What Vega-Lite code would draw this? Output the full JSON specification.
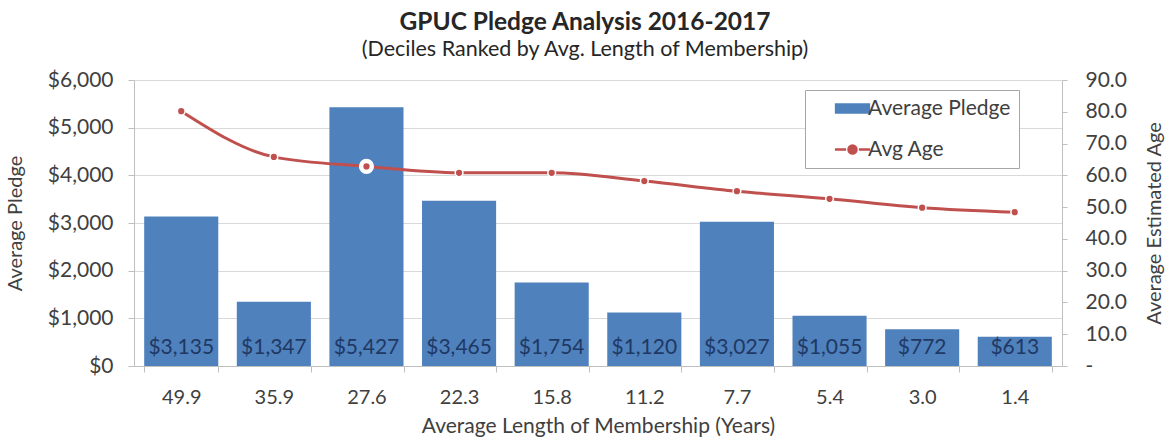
{
  "$schema": "https://vega.github.io/schema/vega-lite/v6.json",
  "width": 928,
  "height": 286,
  "autosize": {"type": "none"},
  "padding": {"left": 134, "top": 80, "right": 105, "bottom": 72},
  "background": "white",
  "title": {
    "text": "GPUC Pledge Analysis 2016-2017",
    "subtitle": "(Deciles Ranked by Avg. Length of Membership)",
    "anchor": "middle",
    "frame": "group",
    "dx": -13,
    "offset": 8,
    "font": "Lato",
    "fontSize": 24.5,
    "fontWeight": "bold",
    "color": "#262626",
    "subtitleFont": "Lato",
    "subtitleFontSize": 21.5,
    "subtitleColor": "#262626",
    "subtitlePadding": 3
  },
  "config": {
    "view": {"stroke": null},
    "font": "Lato",
    "axis": {
      "domainColor": "#BFBFBF",
      "tickColor": "#BFBFBF",
      "labelColor": "#404040",
      "titleColor": "#404040",
      "titleFontWeight": "normal",
      "labelFont": "Lato",
      "titleFont": "Lato"
    }
  },
  "data": {
    "values": [
      {"years": "49.9", "pledge": 3135, "age": 80.2},
      {"years": "35.9", "pledge": 1347, "age": 65.8},
      {"years": "27.6", "pledge": 5427, "age": 62.8},
      {"years": "22.3", "pledge": 3465, "age": 60.8},
      {"years": "15.8", "pledge": 1754, "age": 60.8},
      {"years": "11.2", "pledge": 1120, "age": 58.2},
      {"years": "7.7", "pledge": 3027, "age": 55.0},
      {"years": "5.4", "pledge": 1055, "age": 52.6},
      {"years": "3.0", "pledge": 772, "age": 49.8},
      {"years": "1.4", "pledge": 613, "age": 48.4}
    ]
  },
  "encoding": {
    "x": {
      "field": "years",
      "type": "ordinal",
      "sort": null,
      "title": "Average Length of Membership (Years)",
      "scale": {"paddingInner": 0.2, "paddingOuter": 0.11},
      "axis": {
        "labelAngle": 0,
        "tickBand": "extent",
        "tickSize": 6,
        "labelFontSize": 20,
        "labelPadding": 15,
        "titleFontSize": 21,
        "titlePadding": 8
      }
    }
  },
  "layer": [
    {
      "encoding": {
        "y": {
          "field": "pledge",
          "type": "quantitative",
          "title": "Average Pledge",
          "scale": {"domain": [0, 6000]},
          "axis": {
            "orient": "left",
            "values": [0, 1000, 2000, 3000, 4000, 5000, 6000],
            "format": "$,.0f",
            "grid": true,
            "gridColor": "#D9D9D9",
            "tickSize": 6,
            "labelFontSize": 21,
            "labelPadding": 15,
            "titleFontSize": 20,
            "titlePadding": 22
          }
        }
      },
      "layer": [
        {
          "mark": {"type": "bar", "color": "#4F81BD"},
          "encoding": {
            "color": {
              "datum": "Average Pledge",
              "type": "nominal",
              "scale": {"domain": ["Average Pledge", "Avg Age"], "range": ["#4F81BD", "#C0504D"]},
              "legend": {
                "title": null,
                "orient": "none",
                "legendX": 671,
                "legendY": 10,
                "padding": 8,
                "strokeColor": "#A6A6A6",
                "fillColor": "white",
                "labelFont": "Lato",
                "labelFontSize": 21,
                "labelColor": "#404040",
                "symbolSize": 256,
                "symbolOffset": 29,
                "labelOffset": 5,
                "rowPadding": 19,
                "encode": {
                  "symbols": {
                    "update": {
                      "shape": {"signal": "datum.value == 'Avg Age' ? 'M-2.2,0H-0.8M0.8,0H2.2M-0.5,0A0.5,0.5 0 1,0 0.5,0A0.5,0.5 0 1,0 -0.5,0Z' : 'M-2.05,-0.5H2.05V0.5H-2.05Z'"},
                      "fill": {"signal": "datum.value == 'Avg Age' ? '#C0504D' : '#4F81BD'"},
                      "stroke": {"signal": "datum.value == 'Avg Age' ? '#C0504D' : '#4F81BD'"},
                      "strokeWidth": {"value": 2.5},
                      "opacity": {"value": 1},
                      "fillOpacity": {"value": 1},
                      "strokeDash": {"value": []}
                    }
                  }
                }
              }
            }
          }
        },
        {
          "mark": {"type": "text", "baseline": "bottom", "dy": -8, "fontSize": 21, "color": "#1F3864"},
          "encoding": {
            "y": {"datum": 0, "type": "quantitative", "title": "Average Pledge"},
            "text": {"field": "pledge", "type": "quantitative", "format": "$,.0f"}
          }
        }
      ]
    },
    {
      "encoding": {
        "y": {
          "field": "age",
          "type": "quantitative",
          "title": "Average Estimated Age",
          "scale": {"domain": [0, 90]},
          "axis": {
            "orient": "right",
            "values": [0, 10, 20, 30, 40, 50, 60, 70, 80, 90],
            "labelExpr": "datum.value == 0 ? '-' : format(datum.value, '.1f')",
            "grid": false,
            "tickSize": 5,
            "labelFontSize": 21,
            "labelPadding": 18,
            "labelAlign": "left",
            "titleFontSize": 20,
            "titleAngle": 270,
            "titleBaseline": "top",
            "titlePadding": 18
          }
        }
      },
      "layer": [
        {
          "mark": {"type": "line", "strokeWidth": 3, "interpolate": "monotone"},
          "encoding": {
            "color": {"datum": "Avg Age", "type": "nominal"}
          }
        },
        {
          "transform": [{"filter": "datum.years == '27.6'"}],
          "mark": {"type": "circle", "size": 230, "fill": "white", "opacity": 1},
          "encoding": {}
        },
        {
          "mark": {"type": "circle", "size": 60, "fill": "#C0504D", "stroke": "white", "strokeWidth": 1.5, "opacity": 1},
          "encoding": {}
        }
      ]
    }
  ],
  "resolve": {"scale": {"y": "independent"}}
}
